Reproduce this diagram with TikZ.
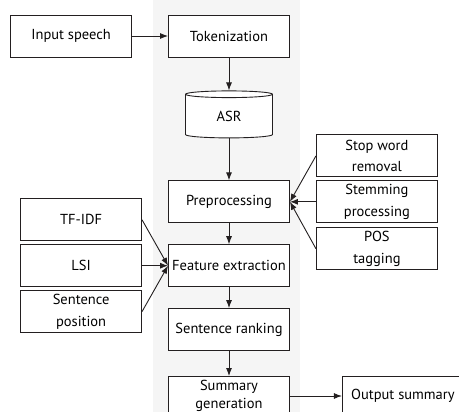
\documentclass[tikz,border=0pt]{standalone}
\usepackage{fontspec}
\setmainfont{PT Sans}
\usetikzlibrary{
  arrows.meta,
  positioning,
  shapes.geometric
}
\definecolor{linegray}{RGB}{35,31,32}
\definecolor{bandgray}{RGB}{245,245,245}
\tikzset{
  >={Latex[length=8pt,width=6pt]},
  box/.style={
    draw=linegray,
    line width=0.9pt,
    minimum width=121pt,
    minimum height=42pt,
    inner sep=1pt,
    align=center,
    fill=white,
    font=\fontsize{14.5}{21.5}\selectfont
  },
  store/.style={
    box,
    cylinder,
    shape border rotate=90,
    aspect=0.25,
    minimum width=87pt,
    minimum height=47pt
  },
  lastbox/.style={
    box,
    minimum height=39pt,
    font=\fontsize{14.5}{17.5}\selectfont
  },
  arrow/.style={
    ->,
    line width=0.9pt,
    draw=linegray
  }
}

\begin{document}
\begin{tikzpicture}[x=1pt, y=-1pt, node distance=21pt and 26pt]
\useasboundingbox (0,0) rectangle (459,412);

% light band behind the main column
\fill[bandgray] (153,0) rectangle (300,412);

% Main column.
\node[box] (tok) at (229,36) {Tokenization};
\node[box, left=36pt of tok] (input) {Input speech};
\node[store, below=33pt of tok] (asr) {ASR};
\node[box, below=42pt of asr] (prep) {Preprocessing};
\node[box, below=of prep] (feat) {Feature extraction};
\node[box, below=of feat] (rank) {Sentence ranking};
\node[lastbox, below=25pt of rank] (summ) {Summary\\generation};
\node[lastbox, right=52pt of summ] (out) {Output summary};

% Preprocessing steps.
\node[box, right=of prep] (stem) {Stemming\\processing};
\node[box, above=3pt of stem] (stop) {Stop word\\removal};
\node[box, below=4pt of stem] (pos) {POS\\tagging};

% Features.
\node[box, left=of feat] (lsi) {LSI};
\node[box, above=3pt of lsi] (tfidf) {TF-IDF};
\node[box, below=3pt of lsi] (spos) {Sentence\\position};

% Arrows.
\draw[arrow] (input) -- (tok);
\draw[arrow] (tok) -- (asr);
\draw[arrow] (asr) -- (prep);
\draw[arrow] (prep) -- (feat);
\draw[arrow] (feat) -- (rank);
\draw[arrow] (rank) -- (summ);
\draw[arrow] (summ) -- (out);

\draw[arrow] (stop.west) -- (prep.east);
\draw[arrow] (stem.west) -- (prep.east);
\draw[arrow] (pos.west) -- (prep.east);

\draw[arrow] (tfidf.east) -- (feat.west);
\draw[arrow] (lsi.east) -- (feat.west);
\draw[arrow] (spos.east) -- (feat.west);

\end{tikzpicture}
\end{document}
